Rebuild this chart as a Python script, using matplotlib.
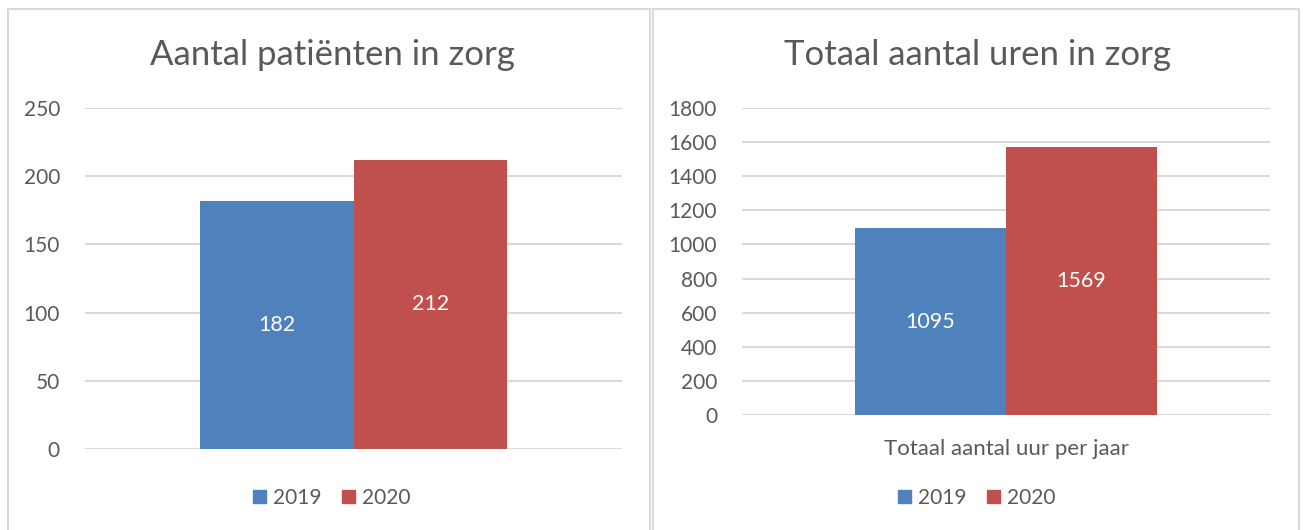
import matplotlib.pyplot as plt
from matplotlib.patches import Rectangle, Patch

plt.rcParams['font.family'] = ['Lato', 'DejaVu Sans']

# data
years = ['2019', '2020']
colors = ['#4F81BD', '#C0504D']
patienten = [182, 212]
uren = [1095, 1569]
cat_left = ''
cat_right = 'Totaal aantal uur per jaar'
title_left = 'Aantal patiënten in zorg'
title_right = 'Totaal aantal uren in zorg'
ticks_left = [0, 50, 100, 150, 200, 250]
ticks_right = list(range(0, 1801, 200))

txt = '#595959'
grid = '#D9D9D9'

fig = plt.figure(figsize=(13.03, 5.30), dpi=100)
W, H = 1303, 530

# panel frames
for x0, x1 in [(8, 650), (653, 1299)]:
    fig.patches.append(Rectangle((x0 / W, -0.1), (x1 - x0) / W, 1.1 - 9 / H,
                                 transform=fig.transFigure, fill=False,
                                 edgecolor='#D9D9D9', linewidth=1.5))


def panel(rect, vals, ticks, cat, title, cx):
    ax = fig.add_axes(rect)
    bw = 0.286
    for i, (v, c) in enumerate(zip(vals, colors)):
        x = (i - 0.5) * bw
        ax.bar(x, v, width=bw, color=c, zorder=3)
        ax.text(x, v / 2, str(v), ha='center', va='center', color='white', fontsize=15.5, zorder=4)
    ax.set_xlim(-0.5, 0.5)
    ax.set_ylim(ticks[0], ticks[-1])
    ax.set_yticks(ticks)
    ax.yaxis.grid(True, color=grid, linewidth=1.5, zorder=0)
    ax.set_xticks([0])
    ax.set_xticklabels([cat], color=txt, fontsize=16)
    ax.tick_params(axis='x', length=0, pad=17)
    ax.tick_params(axis='y', length=0, pad=18, labelcolor=txt, labelsize=15)
    for s in ax.spines.values():
        s.set_visible(False)
    fig.text(cx / W, 1 - 55 / H, title, ha='center', va='center', fontsize=25, color=txt)
    handles = [Patch(color=c, label=y) for y, c in zip(years, colors)]
    fig.legend(handles=handles, loc='center', bbox_to_anchor=(cx / W, 1 - 498 / H),
               ncol=2, frameon=False, fontsize=15, handlelength=0.6, handleheight=0.6,
               handletextpad=0.35, columnspacing=1.0, labelcolor=txt)
    return ax


panel([85 / W, (H - 449) / H, 537 / W, 341 / H], patienten, ticks_left, cat_left, title_left, 332)
panel([742 / W, (H - 415) / H, 528 / W, 307 / H], uren, ticks_right, cat_right, title_right, 977)

fig.savefig('out.png', dpi=100)
